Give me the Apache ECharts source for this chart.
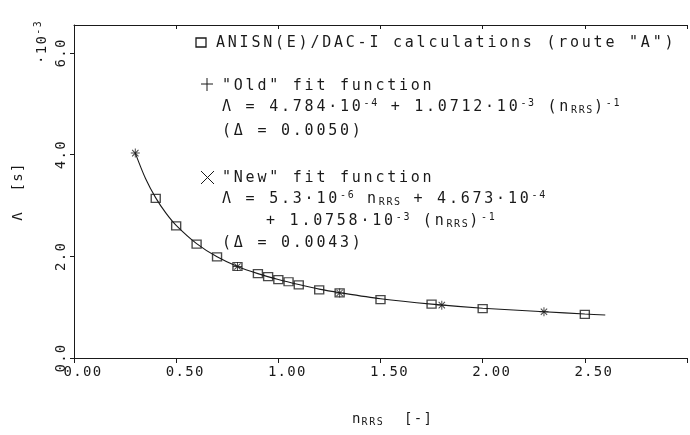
<!DOCTYPE html>
<html><head><meta charset="utf-8">
<script src="https://cdn.jsdelivr.net/npm/echarts@6/dist/echarts.min.js"></script>
<style>html,body{margin:0;padding:0;background:#fff}#c{width:690px;height:435px}</style>
</head><body><div id="c"></div>
<script>
// wide "plotter" letter spacing: applied whenever a canvas font is set
(function(){
  var P = CanvasRenderingContext2D.prototype;
  var d = Object.getOwnPropertyDescriptor(P, 'font');
  if (!d || !('letterSpacing' in P)) return;
  Object.defineProperty(P, 'font', {
    configurable: true,
    get: function(){ return d.get.call(this); },
    set: function(v){
      d.set.call(this, v);
      var m = /(\d+(?:\.\d+)?)px/.exec(v);
      var s = m ? parseFloat(m[1]) : 12;
      var ls = s >= 15 ? s * 0.185 : (s >= 13 ? 1.3 : s * 0.16);
      this.letterSpacing = ls.toFixed(2) + 'px';
    }
  });
})();

// ---- data (values in units of 1e-3 s) ----
var calcX   = [0.4, 0.5, 0.6, 0.7, 0.8, 0.9, 0.95, 1.0, 1.05, 1.1, 1.2, 1.3, 1.5, 1.75, 2.0, 2.5];
var calcY   = [3.14, 2.60, 2.24, 1.99, 1.80, 1.66, 1.60, 1.54, 1.50, 1.44, 1.34, 1.28, 1.15, 1.06, 0.97, 0.86];
var fitX    = [0.3, 0.8, 1.3, 1.8, 2.3];
var oldFitY = [4.03, 1.80, 1.28, 1.04, 0.91];
var newFitY = [4.03, 1.80, 1.28, 1.04, 0.91];
var curveX  = [0.3, 0.35, 0.4, 0.45, 0.5, 0.6, 0.7, 0.8, 0.9, 1.0, 1.1, 1.2, 1.3, 1.5, 1.75, 2.0, 2.3, 2.5, 2.6];
var curveY  = [4.03, 3.53, 3.15, 2.85, 2.61, 2.25, 1.99, 1.80, 1.66, 1.545, 1.445, 1.355, 1.285, 1.165, 1.06, 0.98, 0.91, 0.865, 0.845];
var xTicks  = ['0.00', '0.50', '1.00', '1.50', '2.00', '2.50'];
var yTicks  = ['0.0', '2.0', '4.0', '6.0'];

function pairs(xs, ys){ return xs.map(function(x,i){ return [x, ys[i]]; }); }

var FONT = 'DejaVu Sans Mono';
var INK = '#1a1a1a';
var rich = {
  sup: { fontSize: 10, fontFamily: FONT, color: INK, verticalAlign: 'top', lineHeight: 18 },
  sub: { fontSize: 10, fontFamily: FONT, color: INK, verticalAlign: 'bottom', lineHeight: 18 }
};
var PLUS = 'path://M4.45,0H5.55V10H4.45Z M0,4.45H10V5.55H0Z';

function legendText(x, y, txt){
  return { type: 'text', x: x, y: y, silent: true,
    style: { text: txt, fontSize: 15, fontFamily: FONT, fill: INK, verticalAlign: 'middle', align: 'left', lineHeight: 18, rich: rich } };
}

var chart = echarts.init(document.getElementById('c'), null, { renderer: 'canvas' });
chart.setOption({
  animation: false,
  backgroundColor: '#fff',
  textStyle: { fontFamily: FONT, color: INK },
  grid: { left: 74, right: 0, top: 25, bottom: 77 },
  xAxis: [{
    type: 'value', position: 'bottom', min: 0, max: 3, interval: 0.5,
    name: 'n{sub|RRS}  [-]', nameLocation: 'middle', nameGap: 52,
    nameTextStyle: { fontSize: 14, fontFamily: FONT, color: INK, padding: [0,0,0,24], rich: rich },
    axisLine: { lineStyle: { color: INK, width: 1 } },
    axisTick: { inside: false, length: 5, lineStyle: { color: INK } },
    axisLabel: { margin: 7, fontSize: 14, fontFamily: FONT, color: INK, padding: [0,0,0,18],
      formatter: function(v){ var i = Math.round(v/0.5); return (i < xTicks.length && Math.abs(v - i*0.5) < 1e-6) ? xTicks[i] : ''; } },
    splitLine: { show: false }
  }, {
    type: 'value', position: 'top', min: 0, max: 3, interval: 0.5,
    axisLine: { lineStyle: { color: INK, width: 1 } },
    axisTick: { inside: true, length: 4, lineStyle: { color: INK } },
    axisLabel: { show: false }, splitLine: { show: false }
  }],
  yAxis: [{
    type: 'value', min: 0, max: 6.55, interval: 2,
    name: 'Λ  [s]', nameLocation: 'middle', nameGap: 48, nameRotate: 90,
    nameTextStyle: { fontSize: 14, fontFamily: FONT, color: INK },
    axisLine: { show: true, lineStyle: { color: INK, width: 1 } },
    axisTick: { inside: false, length: 4, lineStyle: { color: INK } },
    axisLabel: { rotate: 90, margin: 5, fontSize: 14, fontFamily: FONT, color: INK, showMaxLabel: false,
      formatter: function(v){ var i = Math.round(v/2); return (i < yTicks.length && Math.abs(v - i*2) < 1e-6) ? yTicks[i] : ''; } },
    splitLine: { show: false }
  }],
  series: [{
    name: 'curve', type: 'line', data: pairs(curveX, curveY), showSymbol: false,
    smooth: 0.3, lineStyle: { color: INK, width: 1.1 }, z: 1
  }, {
    name: 'ANISN(E)/DAC-I calculations (route "A")', type: 'scatter', data: pairs(calcX, calcY),
    symbol: 'rect', symbolSize: [9, 8],
    itemStyle: { color: 'rgba(0,0,0,0)', borderColor: INK, borderWidth: 1.3 }, z: 3
  }, {
    name: '"Old" fit function', type: 'scatter', data: pairs(fitX, oldFitY),
    symbol: PLUS, symbolSize: 9, itemStyle: { color: INK }, z: 4
  }, {
    name: '"New" fit function', type: 'scatter', data: pairs(fitX, newFitY),
    symbol: PLUS, symbolSize: 9, symbolRotate: 45, itemStyle: { color: INK }, z: 4
  }],
  graphic: [
    // exponent label of the y axis
    { type: 'text', x: 42, y: 64, rotation: Math.PI/2, silent: true,
      style: { text: '·10{sup|-3}', fontSize: 14, fontFamily: FONT, fill: INK, align: 'left', verticalAlign: 'middle', lineHeight: 18, rich: rich } },
    // legend markers
    { type: 'rect', shape: { x: 196, y: 38, width: 10, height: 9 }, silent: true,
      style: { fill: 'none', stroke: INK, lineWidth: 1.3 } },
    { type: 'line', shape: { x1: 207, y1: 78, x2: 207, y2: 91 }, silent: true, style: { stroke: INK, lineWidth: 1 } },
    { type: 'line', shape: { x1: 201, y1: 84, x2: 213, y2: 84 }, silent: true, style: { stroke: INK, lineWidth: 1 } },
    { type: 'line', shape: { x1: 201, y1: 171, x2: 214, y2: 184 }, silent: true, style: { stroke: INK, lineWidth: 1 } },
    { type: 'line', shape: { x1: 201, y1: 184, x2: 214, y2: 171 }, silent: true, style: { stroke: INK, lineWidth: 1 } },
    // legend texts
    legendText(216, 43, 'ANISN(E)/DAC-I calculations (route "A")'),
    legendText(222, 86, '"Old" fit function'),
    legendText(222, 107, 'Λ = 4.784·10{sup|-4} + 1.0712·10{sup|-3} (n{sub|RRS}){sup|-1}'),
    legendText(222, 131, '(Δ = 0.0050)'),
    legendText(222, 178, '"New" fit function'),
    legendText(222, 199, 'Λ = 5.3·10{sup|-6} n{sub|RRS} + 4.673·10{sup|-4}'),
    legendText(266, 221, '+ 1.0758·10{sup|-3} (n{sub|RRS}){sup|-1}'),
    legendText(222, 243, '(Δ = 0.0043)')
  ]
});
</script>
</body></html>
